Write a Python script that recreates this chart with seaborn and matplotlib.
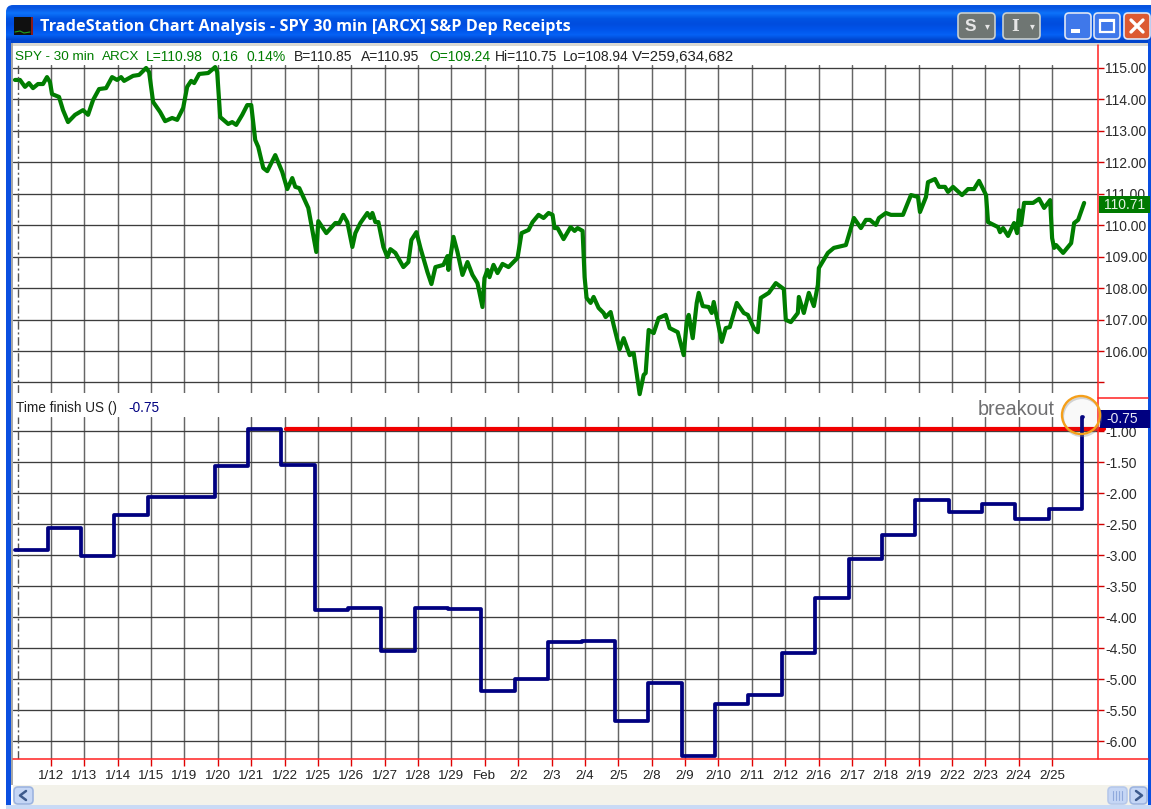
import numpy as np
import seaborn as sns
import matplotlib
matplotlib.use("Agg")
import matplotlib.pyplot as plt
from matplotlib.patches import Rectangle, FancyBboxPatch, Circle

# x positions are in sessions, 0 = 1/12, 30 = 2/25
price_x = [-1.08, -0.93, -0.78, -0.66, -0.54, -0.39, -0.24, -0.12, -0.03, 0.03, 0.24, 0.36, 0.51, 0.72, 0.96, 1.11,
           1.26, 1.44, 1.65, 1.83, 1.98, 2.10, 2.19, 2.46, 2.64, 2.85, 2.94, 3.06, 3.27, 3.42, 3.63, 3.78,
           3.96, 4.08, 4.20, 4.29, 4.44, 4.71, 4.92, 4.98, 5.07, 5.31, 5.43, 5.55, 5.73, 5.88, 6.00, 6.12,
           6.21, 6.36, 6.48, 6.72, 6.93, 7.08, 7.23, 7.32, 7.44, 7.71, 7.95, 8.01, 8.25, 8.52, 8.64, 8.76,
           8.88, 9.03, 9.12, 9.27, 9.48, 9.57, 9.63, 9.72, 9.81, 9.96, 10.08, 10.17, 10.32, 10.56, 10.71, 10.80,
           10.95, 11.07, 11.28, 11.40, 11.52, 11.76, 11.88, 11.91, 12.06, 12.18, 12.33, 12.48, 12.63, 12.78, 12.93, 12.99,
           13.08, 13.14, 13.26, 13.38, 13.53, 13.71, 13.98, 14.10, 14.31, 14.43, 14.61, 14.76, 14.91, 15.03, 15.09, 15.18,
           15.36, 15.57, 15.69, 15.78, 15.93, 15.99, 16.05, 16.17, 16.26, 16.41, 16.56, 16.62, 16.77, 16.86, 17.04, 17.16,
           17.34, 17.46, 17.64, 17.76, 17.82, 17.91, 18.06, 18.21, 18.42, 18.54, 18.78, 18.96, 19.05, 19.11, 19.23, 19.35,
           19.41, 19.53, 19.71, 19.80, 19.86, 20.10, 20.22, 20.34, 20.55, 20.76, 20.88, 21.06, 21.18, 21.27, 21.51, 21.72,
           21.96, 22.02, 22.17, 22.38, 22.41, 22.56, 22.71, 22.86, 22.98, 23.01, 23.28, 23.46, 23.82, 24.06, 24.27, 24.42,
           24.54, 24.72, 24.81, 25.02, 25.17, 25.53, 25.77, 25.98, 26.04, 26.22, 26.28, 26.49, 26.61, 26.79, 26.88, 27.03,
           27.30, 27.48, 27.66, 27.81, 28.02, 28.08, 28.38, 28.44, 28.53, 28.68, 28.86, 28.95, 29.01, 29.07, 29.16, 29.43,
           29.61, 29.76, 29.94, 30.00, 30.06, 30.12, 30.33, 30.57, 30.66, 30.78, 30.96]
price_y = [114.62, 114.62, 114.40, 114.52, 114.36, 114.49, 114.49, 114.71, 114.55, 114.17, 114.08, 113.66, 113.28, 113.51, 113.66, 113.51,
           113.98, 114.33, 114.36, 114.71, 114.62, 114.71, 114.59, 114.75, 114.78, 115.00, 114.87, 113.92, 113.60, 113.31, 113.41, 113.35,
           113.73, 114.40, 114.59, 114.52, 114.81, 114.84, 115.03, 114.87, 113.44, 113.22, 113.28, 113.19, 113.51, 113.82, 113.82, 112.71,
           112.49, 111.82, 111.72, 112.23, 111.69, 111.15, 111.50, 111.22, 111.18, 110.55, 109.15, 110.13, 109.75, 110.07, 110.07, 110.33,
           110.10, 109.31, 109.75, 110.07, 110.39, 110.23, 110.39, 110.10, 110.10, 109.31, 108.99, 109.24, 109.12, 108.67, 108.83, 109.53,
           109.78, 109.28, 108.51, 108.13, 108.67, 108.74, 109.02, 108.58, 109.63, 109.15, 108.42, 108.83, 108.42, 108.16, 107.40, 108.32,
           108.58, 108.35, 108.74, 108.48, 108.77, 108.67, 108.96, 109.75, 109.85, 110.10, 110.33, 110.23, 110.39, 110.33, 109.91, 109.91,
           109.56, 109.94, 109.82, 109.91, 109.82, 108.35, 107.69, 107.53, 107.72, 107.37, 107.21, 107.08, 107.24, 106.83, 106.06, 106.41,
           105.87, 105.94, 104.63, 105.24, 105.30, 106.67, 106.57, 107.05, 107.15, 106.73, 106.60, 105.87, 106.92, 107.15, 106.41, 107.53,
           107.85, 107.43, 107.40, 107.21, 107.56, 106.29, 106.73, 106.76, 107.53, 107.21, 107.15, 106.73, 106.60, 107.69, 107.85, 108.16,
           107.97, 106.99, 106.92, 107.21, 107.72, 107.21, 107.85, 107.43, 108.10, 108.64, 109.12, 109.28, 109.37, 110.23, 109.91, 110.17,
           110.17, 110.01, 110.23, 110.39, 110.33, 110.33, 110.96, 110.90, 110.42, 110.90, 111.37, 111.47, 111.22, 111.22, 111.06, 111.22,
           110.96, 111.15, 111.15, 111.41, 110.96, 110.10, 109.94, 109.78, 109.91, 109.66, 110.07, 109.75, 110.48, 110.01, 110.71, 110.71,
           110.84, 110.55, 110.80, 109.59, 109.28, 109.37, 109.12, 109.43, 110.07, 110.17, 110.71]

osc_x = [-1.08, -0.1, 0.9, 1.9, 2.9, 3.9, 4.9, 5.9, 6.9, 7.9, 8.9, 9.9, 10.9, 11.9, 12.9, 13.9, 14.9,
         15.9, 16.9, 17.9, 18.9, 19.9, 20.9, 21.9, 22.9, 23.9, 24.9, 25.9, 26.9, 27.9, 28.9, 29.9, 30.9, 30.92]
osc_y = [-2.92, -2.56, -3.02, -2.36, -2.07, -2.07, -1.56, -0.97, -1.55, -3.88, -3.86, -4.55, -3.85, -3.87, -5.20, -5.00, -4.40,
         -4.38, -5.68, -5.07, -6.24, -5.40, -5.25, -4.58, -3.70, -3.06, -2.68, -2.12, -2.30, -2.17, -2.42, -2.26, -0.77, -0.77]

breakout_x = [7.04, 31.55]
breakout_y = [-0.97, -0.97]

date_labels = ["1/12", "1/13", "1/14", "1/15", "1/19", "1/20", "1/21", "1/22", "1/25", "1/26", "1/27",
               "1/28", "1/29", "Feb", "2/2", "2/3", "2/4", "2/5", "2/8", "2/9", "2/10", "2/11", "2/12",
               "2/16", "2/17", "2/18", "2/19", "2/22", "2/23", "2/24", "2/25"]
price_ticks = [105, 106, 107, 108, 109, 110, 111, 112, 113, 114, 115]
osc_ticks = [-1.0, -1.5, -2.0, -2.5, -3.0, -3.5, -4.0, -4.5, -5.0, -5.5, -6.0]

W, H = 1151, 809
GREEN = "#007d00"
NAVY = "#000080"

sns.set_theme(style="white")
plt.rcParams["font.family"] = ["Liberation Sans", "DejaVu Sans"]


def panel(fig, top, bottom):
    return fig.add_axes([13 / W, 1 - bottom / H, (1098 - 13) / W, (bottom - top) / H])


def style_panel(ax, ylim, yticks, ylabels):
    ax.set_xlim(-1.139, 31.375)
    ax.set_ylim(*ylim)
    ax.yaxis.tick_right()
    ax.set_yticks(yticks)
    ax.set_yticklabels(ylabels)
    ax.set_xticks(range(len(date_labels)))
    ax.set_xlabel("")
    ax.set_ylabel("")
    sns.despine(ax=ax, left=True, right=True, top=True, bottom=True)
    ax.grid(True, axis="x", color="#666666", lw=1.05)
    ax.grid(True, axis="y", color="#3c3c3c", lw=0.95)
    ax.set_axisbelow(True)
    ax.axvline(-0.99, color="#555555", lw=1.0, dashes=(6, 2, 1.5, 2))
    ax.tick_params(axis="y", which="major", colors="#d00000", length=4, width=1, pad=1, labelsize=10,
                   labelcolor="#2a2a2a", right=True)


fig = plt.figure(figsize=(W / 100, H / 100), dpi=100, facecolor="white")

ax1 = panel(fig, 65, 393)
sns.lineplot(x=price_x, y=price_y, ax=ax1, color=GREEN, lw=3.0, estimator=None, sort=False, clip_on=False)
style_panel(ax1, (104.666, 115.095), price_ticks,
            ["" if v == 105 else f"{v:.2f}" for v in price_ticks])
ax1.tick_params(axis="x", length=0, labelbottom=False)

ax2 = panel(fig, 417, 759)
sns.lineplot(x=osc_x, y=osc_y, ax=ax2, color=NAVY, lw=2.7, estimator=None, sort=False,
             drawstyle="steps-post", clip_on=False, zorder=4)
sns.lineplot(x=breakout_x, y=breakout_y, ax=ax2, color="#f00000", lw=3, estimator=None, sort=False,
             clip_on=False, zorder=3)
style_panel(ax2, (-6.29, -0.774), osc_ticks, [f"{v:.2f}" for v in osc_ticks])
ax2.set_xticklabels(date_labels)
ax2.tick_params(axis="x", colors="#e00000", length=5, width=1, pad=3, labelsize=9.6, labelcolor="#222222",
                bottom=True)

# window frame and text go on a pixel-sized layer above the panels
ov = fig.add_axes([0, 0, 1, 1], zorder=10)
ov.axis("off")


def box(x0, y0, x1, y1, color, z=2):
    ov.add_patch(Rectangle((x0, y0), x1 - x0, y1 - y0, fc=color, ec="none", zorder=z))


def button(x0, y0, x1, y1, color, edge="#dfe6f5"):
    ov.add_patch(FancyBboxPatch((x0 + 2, y0 + 2), x1 - x0 - 4, y1 - y0 - 4, boxstyle="round,pad=2,rounding_size=4",
                                fc=color, ec=edge, lw=1.2, zorder=5))


ramp = np.array([[0.03, 0.33, 0.88], [0.05, 0.45, 0.98], [0.0, 0.33, 0.89], [0.0, 0.30, 0.87],
                 [0.0, 0.33, 0.92], [0.02, 0.38, 0.96], [0.0, 0.27, 0.80]])
title_bar = ov.imshow(ramp[:, None, :], extent=(6, W, 43, 5), aspect="auto", interpolation="bilinear", zorder=1)
corner = FancyBboxPatch((6, 5), W + 30, 60, boxstyle="round,pad=0,rounding_size=7", transform=ov.transData,
                        fc="none", ec="none")
ov.add_patch(corner)
title_bar.set_clip_path(corner)
ov.set_xlim(0, W)
ov.set_ylim(H, 0)

box(11, 43, W, 46, "#d9d8d2")
box(6, 40, 11, H, "#0a4fe0")
box(11, 43, 13, 785, "#a8a8a8")
box(W - 3, 40, W, H, "#0a4fe0")
box(13, 785, W - 3, 805, "#f3f2ea")
box(6, 805, W, H, "#c9daf5")

# red price scale
ov.plot([1098, 1098], [45, 759], color="#ff2020", lw=1.1, zorder=3)
ov.plot([13, W - 3], [759, 759], color="#ff2020", lw=1.1, zorder=3)
ov.plot([1098, W - 3], [398, 398], color="#ff2020", lw=1.1, zorder=3)

# title bar
box(14, 17, 33, 35, "#101010", 3)
box(31, 17, 33, 35, "#8a1a1a", 3)
ov.plot([15, 20, 24, 30], [32, 31, 33, 32], color="#20a020", lw=0.8, zorder=4)
ov.text(40, 27, "TradeStation Chart Analysis - SPY 30 min [ARCX] S&P Dep Receipts", color="white",
        family="Open Sans", fontweight="bold", fontsize=11.7, va="center", ha="left", zorder=6)

button(958, 13, 995, 39, "#6f7673", "#c9d0d0")
button(1003, 13, 1040, 39, "#6f7673", "#c9d0d0")
ov.text(970, 26.5, "S", color="#e6e6e6", fontsize=12.5, fontweight="bold", ha="center", va="center", zorder=6)
ov.text(1015, 26.5, "I", color="#e6e6e6", family="DejaVu Serif", fontsize=12, fontweight="bold", ha="center",
        va="center", zorder=6)
ov.text(987, 26, "\u25be", color="#e6e6e6", family="DejaVu Sans", fontsize=7, ha="center", va="center", zorder=6)
ov.text(1032, 26, "\u25be", color="#e6e6e6", family="DejaVu Sans", fontsize=7, ha="center", va="center", zorder=6)
button(1065, 13, 1091, 39, "#3f78ea")
button(1094, 13, 1120, 39, "#3f78ea")
button(1124, 13, 1150, 39, "#dc5a32")
box(1071, 29, 1080, 33, "white", 6)
ov.add_patch(Rectangle((1100, 20), 14, 12, fc="none", ec="white", lw=1.6, zorder=6))
box(1100, 19, 1114, 22, "white", 6)
ov.plot([1131, 1143], [20, 32], color="white", lw=2.4, zorder=6)
ov.plot([1131, 1143], [32, 20], color="white", lw=2.4, zorder=6)

# status lines
head_items = [(15, "SPY - 30 min", GREEN, 9.7), (102, "ARCX", GREEN, 9.7), (146, "L=110.98", GREEN, 10),
              (212, "0.16", GREEN, 10), (247, "0.14%", GREEN, 10), (294, "B=110.85", "#222222", 10),
              (361, "A=110.95", "#222222", 10), (429, "O=109.24", GREEN, 10), (495, "Hi=110.75", "#222222", 10),
              (563, "Lo=108.94", "#222222", 10), (632, "V=259,634,682", "#222222", 10.8)]
for x, txt, col, size in head_items:
    ov.text(x, 57, txt, color=col, fontsize=size, ha="left", va="center", zorder=6)
ov.text(16, 408, "Time finish US ()", color="#222222", fontsize=9.8, ha="left", va="center", zorder=6)
ov.text(128, 408, "-0.75", color=NAVY, fontsize=9.8, ha="left", va="center", zorder=6)

# last value tags
box(1099, 196, W - 1, 213, "#007a00", 4)
ov.text(1125, 205, "110.71", color="#e8f4e8", fontsize=10, ha="center", va="center", zorder=6)
box(1100, 410, W - 1, 428, NAVY, 4)
ov.text(1122, 419, "-0.75", color="#e8e8f6", fontsize=10, ha="center", va="center", zorder=6)

# annotation
ov.text(978, 409, "breakout", color="#6e6e70", fontsize=14.2, ha="left", va="center", zorder=6)
ov.add_patch(Circle((1082, 417), 19, fc="none", ec="#8a8a8a", lw=1.6, alpha=0.35, zorder=5))
ov.add_patch(Circle((1081, 415), 19, fc="#9a9a9a", ec="none", alpha=0.05, zorder=5))
ov.add_patch(Circle((1081, 415), 19, fc="none", ec="#f59f1a", lw=1.7, zorder=6))

# scrollbar
button(14, 787, 33, 804, "#c5d6f5", "#9db4e0")
button(1108, 787, 1127, 804, "#c5d6f5", "#b6c8ea")
button(1130, 787, 1147, 804, "#c5d6f5", "#9db4e0")
ov.plot([26, 20, 26], [791, 795.5, 800], color="#3d5a8c", lw=1.8, zorder=6)
ov.plot([1136, 1142, 1136], [791, 795.5, 800], color="#3d5a8c", lw=1.8, zorder=6)
for x in [1113, 1116, 1119, 1122]:
    ov.plot([x, x], [791, 800], color="#8fa9dc", lw=0.8, zorder=6)

fig.savefig("out.png", dpi=100)
